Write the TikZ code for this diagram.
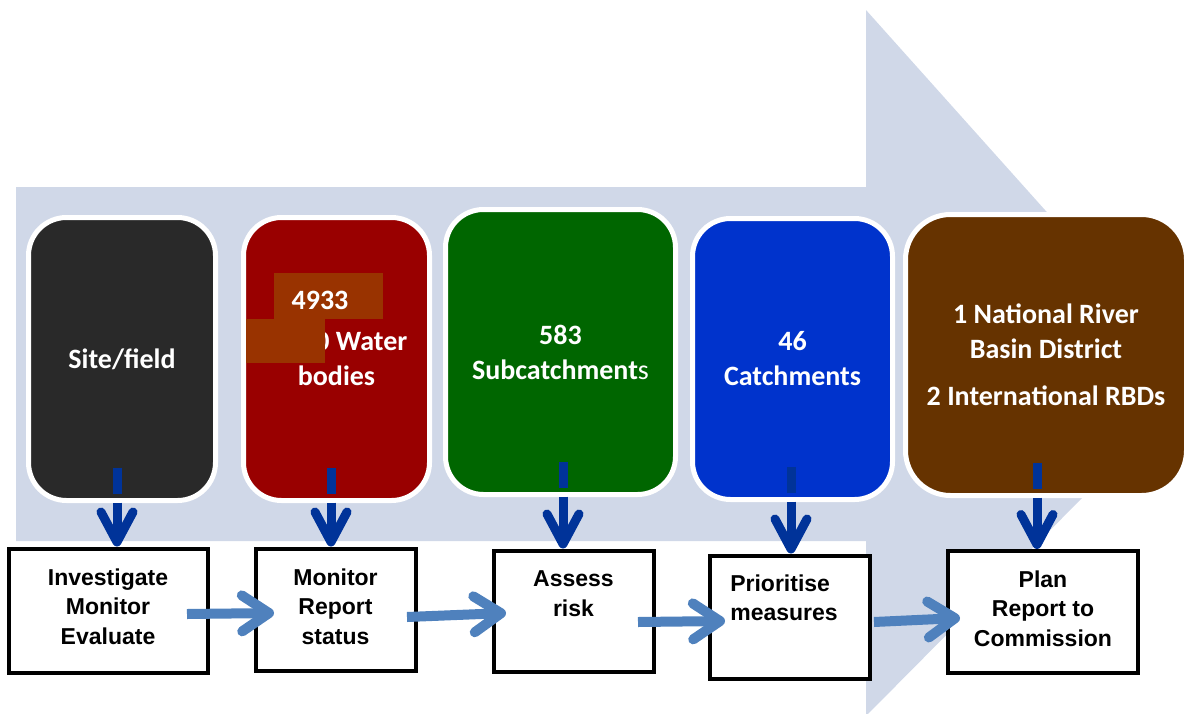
\documentclass[tikz,border=0pt]{standalone}
\usepackage{fontspec}
\usetikzlibrary{arrows.meta, positioning, calc}
\newfontfamily\calibfont{Carlito}
\newfontfamily\arialfont{Liberation Sans}
\definecolor{bgarrow}{HTML}{D0D8E8}
\definecolor{tblack}{HTML}{292929}
\definecolor{tred}{HTML}{990000}
\definecolor{tgreen}{HTML}{006600}
\definecolor{tblue}{HTML}{0033CC}
\definecolor{tbrown}{HTML}{663300}
\definecolor{patch}{HTML}{993300}
\definecolor{darrow}{HTML}{003399}
\definecolor{rarrow}{HTML}{4F81BD}
\tikzset{
  tile/.style={rectangle, rounded corners=38pt, draw=white, line width=5pt, text=white,
               align=center, font=\calibfont\bfseries\fontsize{28}{35}\selectfont},
  count/.style={text=white, font=\calibfont\bfseries\fontsize{28}{35}\selectfont},
  lowbox/.style={rectangle, draw=black, line width=4pt, fill=white},
  lowtext/.style={align=center, text=black, font=\arialfont\bfseries\fontsize{23}{29.5}\selectfont},
  downflow/.style={draw=darrow, line width=9pt, dash pattern=on 26pt off 9pt on 300pt off 0pt,
                   -{Straight Barb[length=30pt, width=32pt, round]}},
  rightflow/.style={draw=rarrow, line width=10pt, -{Straight Barb[length=27pt, width=36pt, round]}}
}
\begin{document}
\begin{tikzpicture}[x=1pt, y=-1pt]
  \useasboundingbox (0,0) rectangle (1184,713);
  \clip (0,0) rectangle (1184,713);
  % backdrop arrow
  \fill[bgarrow] (16,187) -- (866,187) -- (866,10) -- (1198,381) -- (866,716) -- (866,541) -- (16,541) -- cycle;

  % scale tiles
  \node[tile, fill=tblack, minimum width=187pt, minimum height=283pt] (site) at (122,359) {Site/field};
  \node[tile, fill=tred, minimum width=186pt, minimum height=283pt] (wbody) at (336.5,359) {\hphantom{4,84}0 Water\\bodies};
  \node[tile, fill=tgreen, minimum width=230pt, minimum height=285pt] (subc) at (560.5,352) {583\\Subcatchment{\mdseries s}};
  \node[tile, fill=tblue, minimum width=200pt, minimum height=281pt] (catch) at (792.5,359) {46\\Catchments};
  \node[tile, fill=tbrown, rounded corners=45pt, minimum width=281pt, minimum height=281pt] (rbd) at (1046,355)
    {1 National River\\Basin District\\[12pt]2 International RBDs};

  % patches over the water body count
  \fill[patch] (274,273) rectangle (383,319);
  \fill[patch] (246,319) rectangle (325,363);
  \node[count] (wbcount) at (320,300) {4933};

  % task boxes
  \node[lowbox, minimum width=199pt, minimum height=124pt] (inv) at (108,610.5) {};
  \node[lowtext] (invtxt) at ($(inv)+(0,-4)$) {Investigate\\Monitor\\Evaluate};
  \node[lowbox, minimum width=160pt, minimum height=122pt] (mon) at (335.5,609.5) {};
  \node[lowtext] (montxt) at ($(mon)+(0,-3)$) {Monitor\\Report\\status};
  \node[lowbox, minimum width=160pt, minimum height=121pt] (risk) at (573.5,611) {};
  \node[lowtext] (risktxt) at ($(risk)+(0,-17.5)$) {Assess\\risk};
  \node[lowbox, minimum width=160pt, minimum height=123pt] (prio) at (790,617) {};
  \node[lowtext, align=left] (priotxt) at ($(prio)+(-6,-19)$) {Prioritise\\measures};
  \node[lowbox, minimum width=190pt, minimum height=122pt] (plan) at (1043,612) {};
  \node[lowtext] (plantxt) at ($(plan)+(0,-3.5)$) {Plan\\Report to\\Commission};

  % tile -> task
  \foreach \tl/\bx/\dx in {site/inv/-5, wbody/mon/-5.5, subc/risk/2.5, catch/prio/-1.5, rbd/plan/-9} {
    \coordinate (d-\tl) at ($(\tl.south)+(\dx,0)$);
    \draw[downflow] ($(d-\tl)+(0,-35.5)$) -- (d-\tl |- \bx.north);
  }

  % task -> task
  \draw[rightflow] ($(inv.east)+(-22.5,3.5)$) -- ($(mon.west)+(20.5,3.5)$);
  \draw[rightflow] ($(mon.east)+(-10.5,7.5)$) -- ($(risk.west)+(14.5,2)$);
  \draw[rightflow] ($(risk.east)+(-17.5,11)$) -- ($(prio.west)+(17,4)$);
  \draw[rightflow] ($(prio.east)+(2,5)$) -- ($(plan.west)+(14,6)$);
\end{tikzpicture}
\end{document}
